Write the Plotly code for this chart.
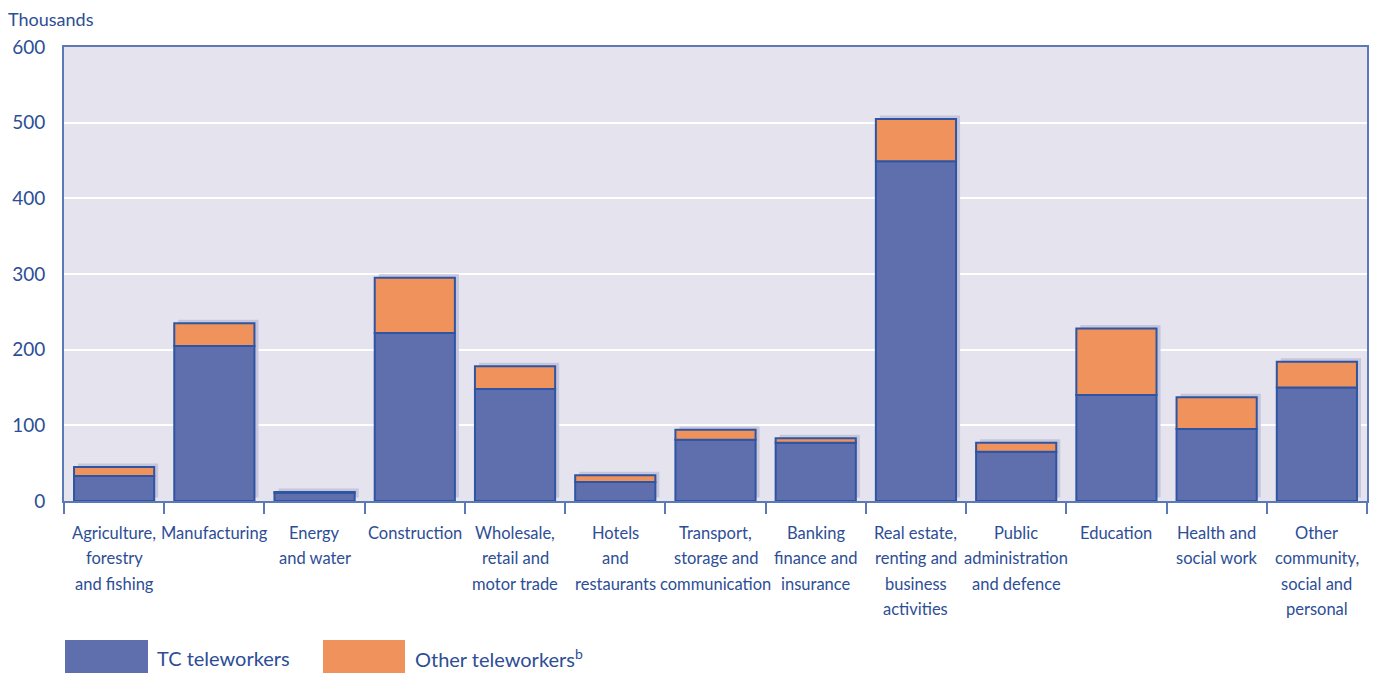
import plotly.graph_objects as go

categories = [
    "Agriculture,<br>forestry<br>and fishing", "Manufacturing", "Energy<br>and water",
    "Construction", "Wholesale,<br>retail and<br>motor trade", "Hotels<br>and<br>restaurants",
    "Transport,<br>storage and<br>communication", "Banking<br>finance and<br>insurance",
    "Real estate,<br>renting and<br>business<br>activities", "Public<br>administration<br>and defence",
    "Education", "Health and<br>social work", "Other<br>community,<br>social and<br>personal",
]
tc_teleworkers = [33, 205, 11, 222, 148, 25, 81, 77, 449, 65, 140, 95, 150]
other_teleworkers = [12, 30, 1, 73, 30, 9, 13, 6, 56, 12, 88, 42, 34]
totals = [a + b for a, b in zip(tc_teleworkers, other_teleworkers)]
y_ticks = [0, 100, 200, 300, 400, 500, 600]

TEXT = "#2D4E96"
BLUE = "#5F6FAD"
ORANGE = "#EF925B"
EDGE = "#2F55A2"
SHADOW = "#C6C6DC"
AXIS = "#5B79B6"
FONT = "Lato"

fig = go.Figure()
fig.add_trace(go.Bar(x=categories, y=totals, base=4.6,
                     width=0.8, offset=-0.36, marker=dict(color=SHADOW, line=dict(width=0)),
                     showlegend=False, hoverinfo="skip"))
fig.add_trace(go.Bar(x=categories, y=tc_teleworkers, width=0.8, offset=-0.4,
                     name="TC teleworkers",
                     marker=dict(color=BLUE, line=dict(color=EDGE, width=2))))
fig.add_trace(go.Bar(x=categories, y=other_teleworkers, base=tc_teleworkers, width=0.8, offset=-0.4,
                     name="Other teleworkers",
                     marker=dict(color=ORANGE, line=dict(color=EDGE, width=2))))

fig.update_layout(
    barmode="overlay",
    width=1376, height=673,
    margin=dict(l=64, r=9, t=47, b=172),
    paper_bgcolor="white",
    plot_bgcolor="#E4E3EE",
    showlegend=False,
    font=dict(family=FONT, color=TEXT, size=17),
    xaxis=dict(
        type="category", showline=True, linecolor=AXIS, linewidth=2, mirror=True,
        ticks="outside", tickson="boundaries", ticklen=11, tickcolor=AXIS, tickwidth=2,
        showticklabels=False, showgrid=False, automargin=False,
        range=[-0.5, 12.5],
    ),
    yaxis=dict(
        range=[0, 600], tickvals=y_ticks, showline=True, linecolor=AXIS, linewidth=2,
        mirror=True, gridcolor="white", gridwidth=1.5, zeroline=False, automargin=False,
        tickfont=dict(family=FONT, size=19, color=TEXT), ticks="", ticklabelstandoff=13,
    ),
)

# category labels under each bar, one annotation per line for the wider line spacing
for cat in categories:
    for i, line in enumerate(cat.split("<br>")):
        fig.add_annotation(text=line, x=cat, xref="x", yref="paper",
                           y=(501 - (533 + 25.3 * i)) / 454,
                           xanchor="center", yanchor="middle", showarrow=False,
                           font=dict(family=FONT, size=16.5, color=TEXT))

fig.add_annotation(text="Thousands", xref="paper", yref="paper", x=(6 - 64) / 1303, y=(501 - 19) / 454,
                   xanchor="left", yanchor="middle", showarrow=False,
                   font=dict(family=FONT, size=18, color=TEXT))

# legend
legend_items = [("TC teleworkers", BLUE, 65, 148, 155), ("Other teleworkers<sup>b</sup>", ORANGE, 323, 405, 413)]
for label, color, x0, x1, tx in legend_items:
    fig.add_shape(type="rect", xref="paper", yref="paper",
                  x0=(x0 - 64) / 1303, x1=(x1 - 64) / 1303,
                  y0=(501 - 673) / 454, y1=(501 - 640) / 454,
                  fillcolor=color, line=dict(width=0))
    fig.add_annotation(text=label, xref="paper", yref="paper", x=(tx - 64) / 1303,
                       y=(501 - 658) / 454, xanchor="left", yanchor="middle", showarrow=False,
                       font=dict(family=FONT, size=20, color=TEXT))

fig.write_html("out.html", config={"displayModeBar": False},
               post_script="document.body.style.margin='0';document.body.style.overflow='hidden';")
